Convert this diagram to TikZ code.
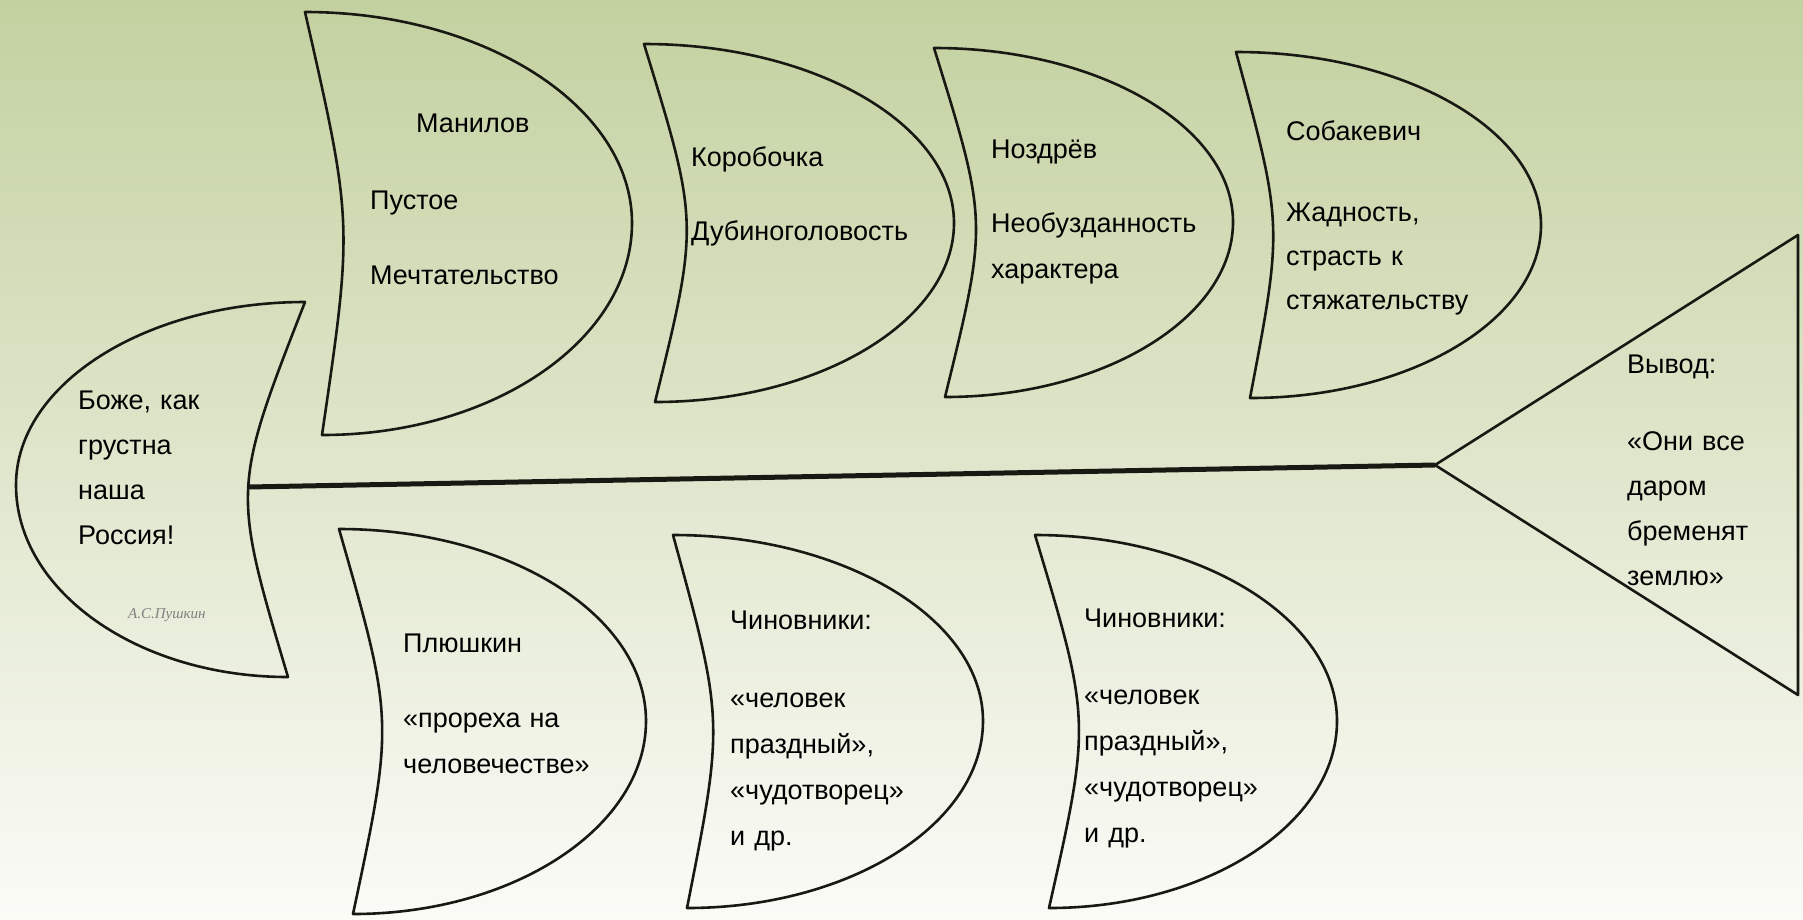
\documentclass[tikz,border=0pt]{standalone}
\usepackage{fontspec}
\setmainfont{Liberation Sans}
\newfontfamily\attribfont{Liberation Serif}
\definecolor{bgtop}{RGB}{195,209,160}
\definecolor{bgmid}{RGB}{222,229,202}
\definecolor{bgbot}{RGB}{251,251,247}
\definecolor{ink}{RGB}{25,25,20}
\begin{document}
\begin{tikzpicture}[x=1pt,y=-1pt,
  finline/.style={draw=ink,line width=2.6pt,line join=round},
  spineline/.style={draw=ink,line width=5pt},
  fintext/.style={anchor=base west,inner sep=0pt,text width=260pt,align=left,
    font=\fontsize{27}{46}\selectfont,text=black}]
\useasboundingbox (0,0) rectangle (1803,919);
\shade[top color=bgtop,middle color=bgmid,bottom color=bgbot] (0,0) rectangle (1803,919);

% spine and head
\coordinate (tailjoin) at (248,487);
\coordinate (apex) at (1435,465);
\coordinate (headtop) at (1798,235);
\coordinate (headbot) at (1798,695);
\draw[spineline] (tailjoin) -- (apex);
\draw[finline] (apex) -- (headtop) -- (headbot) -- cycle;

% tail
\draw[finline] (305,302) .. controls (146,302) and (16,384) .. (16,485)
  .. controls (16,591) and (138,677) .. (288,677)
  .. controls (232,489) .. cycle;

% upper fins
\draw[finline] (305,12) .. controls (485,12) and (632,107) .. (632,223)
  .. controls (632,340) and (493,435) .. (322,435)
  .. controls (353,223) .. cycle;
\draw[finline] (644,44) .. controls (815,44) and (954,125) .. (954,223)
  .. controls (954,321) and (819,402) .. (655,402)
  .. controls (699,223) .. cycle;
\draw[finline] (934,48) .. controls (1098,48) and (1233,126) .. (1233,222)
  .. controls (1233,318) and (1103,397) .. (945,397)
  .. controls (988,222) .. cycle;
\draw[finline] (1236,52) .. controls (1404,52) and (1541,130) .. (1541,225)
  .. controls (1541,320) and (1410,398) .. (1250,398)
  .. controls (1283,225) .. cycle;

% lower fins
\draw[finline] (339,529) .. controls (508,529) and (646,615) .. (646,721)
  .. controls (646,827) and (514,914) .. (353,914)
  .. controls (394,721) .. cycle;
\draw[finline] (673,535) .. controls (844,535) and (983,619) .. (983,721)
  .. controls (983,824) and (850,908) .. (687,908)
  .. controls (724,721) .. cycle;
\draw[finline] (1035,535) .. controls (1201,535) and (1337,619) .. (1337,721)
  .. controls (1337,824) and (1207,908) .. (1049,908)
  .. controls (1091,721) .. cycle;

% texts
\node[fintext,font=\fontsize{27}{45}\selectfont] (tailtext) at (78,409) {Боже, как\\грустна\\наша\\Россия!};
\node[anchor=base west,inner sep=0pt,font=\attribfont\itshape\fontsize{15}{18}\selectfont,text=gray] (pushkin) at (128,618) {А.С.Пушкин};

\node[fintext] (manilovT) at (416,132) {Манилов};
\node[fintext] (manilovB) at (370,209) {Пустое\\[29pt]Мечтательство};
\node[fintext] (korob) at (691,166) {Коробочка\\[28pt]Дубиноголовость};
\node[fintext] (nozd) at (991,158) {Ноздрёв\\[28pt]Необузданность\\характера};
\node[fintext,font=\fontsize{27}{44}\selectfont] (sobak) at (1286,140) {Собакевич\\[37pt]Жадность,\\страсть к\\стяжательству};

\node[fintext] (plyush) at (403,652) {Плюшкин\\[29pt]«прореха на\\человечестве»};
\node[fintext] (chin1) at (730,629) {Чиновники:\\[32pt]«человек\\праздный»,\\«чудотворец»\\и др.};
\node[fintext] (chin2) at (1084,627) {Чиновники:\\[31pt]«человек\\праздный»,\\«чудотворец»\\и др.};

\node[fintext,font=\fontsize{27}{45}\selectfont] (vyvod) at (1627,373) {Вывод:\\[32pt]«Они все\\даром\\бременят\\землю»};
\end{tikzpicture}
\end{document}
